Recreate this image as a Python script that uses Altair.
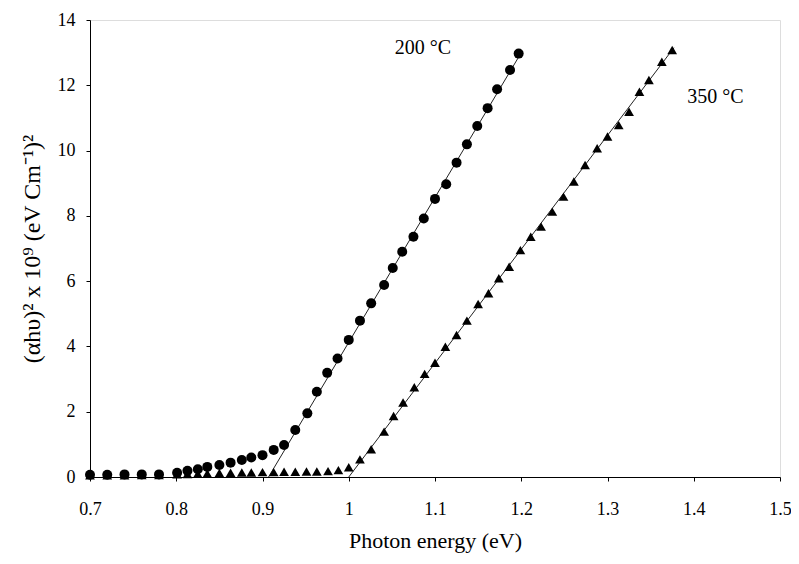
import altair as alt
import pandas as pd

# 200 °C series (circles)
e200 = [0.70, 0.72, 0.74, 0.76, 0.78, 0.801, 0.813, 0.825, 0.836, 0.850, 0.863, 0.876,
        0.887, 0.900, 0.913, 0.925, 0.938, 0.952, 0.963, 0.975, 0.987, 1.000, 1.013,
        1.026, 1.041, 1.051, 1.062, 1.075, 1.087, 1.100, 1.113, 1.125, 1.137, 1.149,
        1.161, 1.172, 1.187, 1.197]
v200 = [0.07, 0.07, 0.08, 0.08, 0.08, 0.13, 0.19, 0.24, 0.31, 0.37, 0.44, 0.52,
        0.60, 0.67, 0.83, 0.98, 1.44, 1.95, 2.61, 3.19, 3.63, 4.20, 4.79,
        5.32, 5.88, 6.40, 6.90, 7.36, 7.92, 8.52, 8.97, 9.63, 10.19, 10.75,
        11.30, 11.88, 12.47, 12.97]

# 350 °C series (triangles)
e350 = [0.70, 0.72, 0.74, 0.76, 0.78, 0.801, 0.813, 0.825, 0.836, 0.850, 0.863, 0.876,
        0.887, 0.900, 0.913, 0.925, 0.938, 0.951, 0.963, 0.976, 0.988, 1.000, 1.013,
        1.026, 1.041, 1.052, 1.063, 1.076, 1.088, 1.100, 1.112, 1.125, 1.137, 1.150,
        1.162, 1.174, 1.186, 1.199, 1.211, 1.223, 1.236, 1.249, 1.261, 1.274, 1.288,
        1.300, 1.313, 1.325, 1.337, 1.348, 1.363, 1.375]
v350 = [0.05, 0.05, 0.05, 0.06, 0.06, 0.08, 0.09, 0.10, 0.11, 0.12, 0.13, 0.14,
        0.14, 0.15, 0.15, 0.16, 0.16, 0.17, 0.17, 0.18, 0.21, 0.30, 0.54,
        0.85, 1.39, 1.87, 2.28, 2.75, 3.16, 3.50, 3.99, 4.35, 4.79, 5.30,
        5.63, 6.09, 6.44, 6.95, 7.36, 7.67, 8.13, 8.59, 9.05, 9.56, 10.07,
        10.43, 10.78, 11.19, 11.80, 12.16, 12.72, 13.08]

# linear fits (Tauc extrapolation)
fit200_x = [0.907, 1.200]
fit200_y = [0.0, 13.0]
fit350_x = [1.000, 1.377]
fit350_y = [0.0, 13.15]

label_text = ["200 \u00b0C", "350 \u00b0C"]
label_x = [1.086, 1.425]
label_y = [13.15, 11.65]

x_ticks = [0.7, 0.8, 0.9, 1.0, 1.1, 1.2, 1.3, 1.4, 1.5]
y_ticks = [0, 2, 4, 6, 8, 10, 12, 14]

FONT = "Liberation Serif"

d200 = pd.DataFrame({"E": e200, "V": v200})
d350 = pd.DataFrame({"E": e350, "V": v350})
fits = pd.concat([
    pd.DataFrame({"E": fit200_x, "V": fit200_y, "s": "200"}),
    pd.DataFrame({"E": fit350_x, "V": fit350_y, "s": "350"}),
])
labels = pd.DataFrame({"t": label_text, "E": label_x, "V": label_y})

xs = alt.Scale(domain=[0.7, 1.5], nice=False, zero=False)
ys = alt.Scale(domain=[0, 14], nice=False)

xenc = alt.X("E:Q", scale=xs, axis=alt.Axis(
    values=x_ticks, format=".1~f", title="Photon energy (eV)", grid=False,
    labelFont=FONT, labelFontSize=18, labelColor="black", labelPadding=19,
    labelFlush=False, labelOverlap=False,
    titleFont=FONT, titleFontSize=22, titleFontWeight="normal", titleColor="black",
    titlePadding=12, domainColor="black", tickColor="black", tickSize=4))
yenc = alt.Y("V:Q", scale=ys, axis=alt.Axis(
    values=y_ticks, title="(\u03b1h\u03c5)\u00b2 x 10\u2079 (eV Cm\u207b\u00b9)\u00b2", grid=False,
    labelFont=FONT, labelFontSize=18, labelColor="black", labelPadding=11,
    labelFlush=False, labelOverlap=False,
    titleFont=FONT, titleFontSize=24, titleFontWeight="normal", titleColor="black",
    titlePadding=13, domainColor="black", tickColor="black", tickSize=4))

lines = alt.Chart(fits).mark_line(color="#222222", strokeWidth=1).encode(
    x=xenc, y=yenc, detail="s:N")
circ = alt.Chart(d200).mark_point(shape="circle", filled=True, color="black",
                                   size=100, opacity=1).encode(x="E:Q", y="V:Q")
tri = alt.Chart(d350).mark_point(shape="triangle-up", filled=True, color="black",
                                  size=95, opacity=1).encode(x="E:Q", y="V:Q")
txt = alt.Chart(labels).mark_text(font=FONT, fontSize=20, color="black").encode(
    x="E:Q", y="V:Q", text="t:N")

chart = alt.layer(lines, circ, tri, txt).properties(
    width=690, height=457,
    autosize=alt.AutoSizeParams(type="none"),
    padding={"left": 82, "top": 12, "right": 11, "bottom": 80},
).configure_view(stroke="black", strokeWidth=1).configure(background="white")

chart.save("out.html", embed_options={"renderer": "svg", "actions": False})
